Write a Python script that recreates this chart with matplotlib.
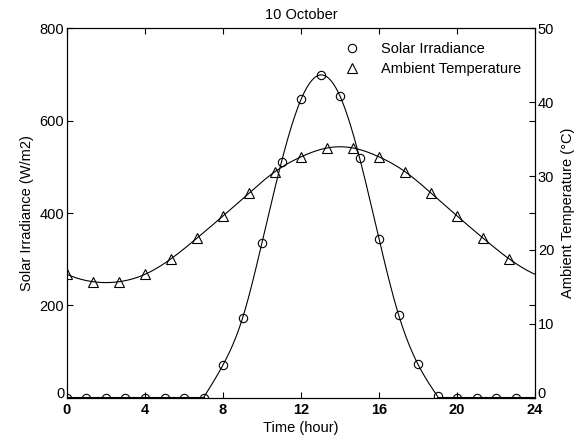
import numpy as np
import matplotlib
matplotlib.use("Agg")
import matplotlib.pyplot as plt

plt.rcParams['font.family'] = ['Liberation Sans', 'DejaVu Sans']

# solar irradiance, hourly (W/m2)
solar_hours = list(range(24))
solar_vals = [0, 0, 0, 0, 0, 0, 0, 0, 71, 172, 336, 511, 646, 699, 653, 520,
              344, 180, 72, 3, 0, 0, 0, 0]

# ambient temperature, every 80 minutes (deg C)
temp_hours = [i * 4 / 3 for i in range(18)]
temp_vals = [16.7, 15.7, 15.7, 16.7, 18.8, 21.6, 24.6, 27.7, 30.6, 32.6,
             33.8, 33.8, 32.6, 30.6, 27.7, 24.6, 21.6, 18.8]

x_ticks = [0, 4, 8, 12, 16, 20, 24]


def spline(x, y, xs, periodic=False, period=24.0):
    # cubic spline through the points, drawn only for the smooth line
    x = np.asarray(x, float)
    y = np.asarray(y, float)
    if periodic:
        x = np.append(x, x[0] + period)
        y = np.append(y, y[0])
    n = len(x)
    h = np.diff(x)
    A = np.zeros((n, n))
    b = np.zeros(n)
    for i in range(1, n - 1):
        A[i, i - 1] = h[i - 1]
        A[i, i] = 2 * (h[i - 1] + h[i])
        A[i, i + 1] = h[i]
        b[i] = 6 * ((y[i + 1] - y[i]) / h[i] - (y[i] - y[i - 1]) / h[i - 1])
    if periodic:
        A[0, 0] = 1
        A[0, -1] = -1
        A[-1, 0] = 2 * h[0]
        A[-1, 1] = h[0]
        A[-1, -2] = h[-1]
        A[-1, -1] = 2 * h[-1]
        b[-1] = 6 * ((y[1] - y[0]) / h[0] - (y[-1] - y[-2]) / h[-1])
    else:
        A[0, 0] = 1
        A[-1, -1] = 1
    M = np.linalg.solve(A, b)
    idx = np.clip(np.searchsorted(x, xs) - 1, 0, n - 2)
    t0 = xs - x[idx]
    t1 = x[idx + 1] - xs
    hi = h[idx]
    return (M[idx] * t1 ** 3 / (6 * hi) + M[idx + 1] * t0 ** 3 / (6 * hi)
            + (y[idx] / hi - M[idx] * hi / 6) * t1
            + (y[idx + 1] / hi - M[idx + 1] * hi / 6) * t0)


fig = plt.figure(figsize=(5.8, 4.41), dpi=100)
ax = fig.add_axes([0.1155, 0.0982, 0.807, 0.8376])
ax2 = ax.twinx()

# smooth solar curve between sunrise and sunset, flat zero elsewhere
xs = np.linspace(7, 19, 400)
ax.plot(xs, np.maximum(spline(solar_hours[7:20], solar_vals[7:20], xs), 0),
        color='black', lw=0.8)
ax.plot([0, 7], [0, 0], color='black', lw=1.5)
ax.plot([19, 24], [0, 0], color='black', lw=1.5)
ax.plot(solar_hours, solar_vals, 'o', color='black', mfc='none', ms=6,
        mew=0.8, label='Solar Irradiance')

xt = np.linspace(0, 24, 500)
ax2.plot(xt, spline(temp_hours, temp_vals, xt, periodic=True),
         color='black', lw=0.8)
ax2.plot(temp_hours, temp_vals, '^', color='black', mfc='none', ms=7.5,
         mew=0.8)
ax.plot([], [], '^', color='black', mfc='none', ms=7.5, mew=0.8,
        label='Ambient Temperature')

ax.set_xlim(0, 24)
ax.set_ylim(0, 800)
ax2.set_ylim(0, 50)
ax.set_xticks(x_ticks)
ax.set_yticks([0, 200, 400, 600, 800])
ax2.set_yticks([0, 10, 20, 30, 40, 50])
for lab in ax.get_xticklabels():
    lab.set_fontweight('bold')
# zero labels sit on the baseline like the original
ax.get_yticklabels()[0].set_verticalalignment('baseline')
ax2.get_yticklabels()[0].set_verticalalignment('baseline')

ax.tick_params(direction='in', top=True, right=True, length=4,
               labelsize=10.5, pad=2, width=0.8)
ax.tick_params(axis='x', pad=4)
ax2.tick_params(direction='in', length=4, labelsize=10.5, pad=2, width=0.8)
for a in (ax, ax2):
    for s in a.spines.values():
        s.set_linewidth(0.8)

ax.set_xlabel('Time (hour)', fontsize=10.5, labelpad=3)
ax.set_ylabel('Solar Irradiance (W/m2)', fontsize=10.5, labelpad=4)
ax2.set_ylabel('Ambient Temperature (°C)', fontsize=10.5, labelpad=5)
ax.set_title('10 October', fontsize=10.5, pad=7)

ax.legend(loc='upper left', bbox_to_anchor=(0.565, 0.979), frameon=False,
          fontsize=10.5, handletextpad=1.0, borderaxespad=0,
          labelspacing=0.45)

fig.savefig('out.png', dpi=100)
